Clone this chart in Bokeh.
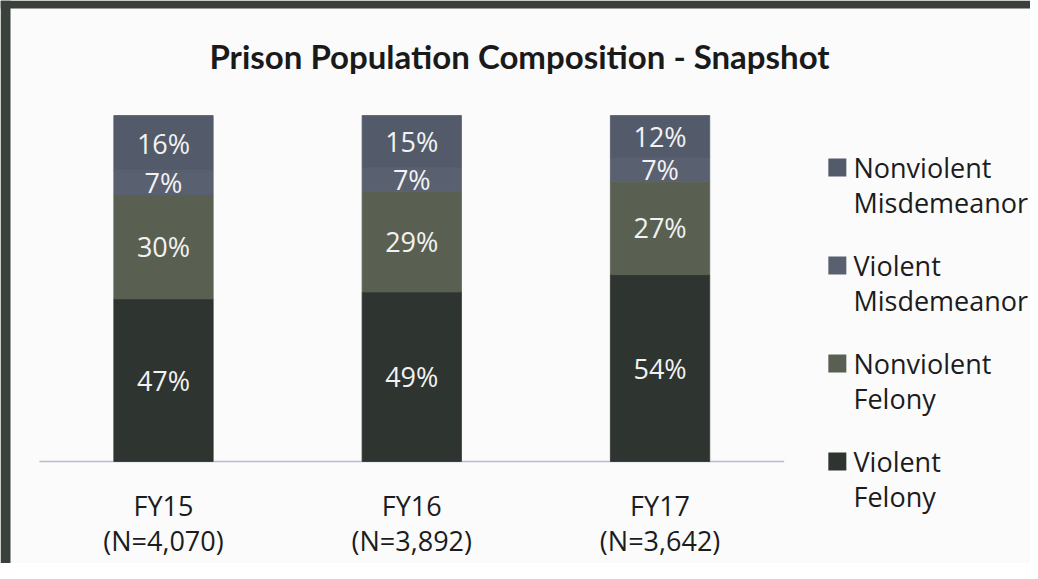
from bokeh.plotting import figure
from bokeh.models import Range1d, ColumnDataSource, BoxAnnotation
from bokeh.core.properties import value
from bokeh.embed import file_html
from bokeh.resources import INLINE

title_text = "Prison Population Composition - Snapshot"
years = ["FY15", "FY16", "FY17"]
totals = ["(N=4,070)", "(N=3,892)", "(N=3,642)"]
series_keys = ["violent_felony", "nonviolent_felony", "violent_misdemeanor", "nonviolent_misdemeanor"]
series_names = ["Violent\nFelony", "Nonviolent\nFelony", "Violent\nMisdemeanor", "Nonviolent\nMisdemeanor"]
violent_felony = [47, 49, 54]
nonviolent_felony = [30, 29, 27]
violent_misdemeanor = [7, 7, 7]
nonviolent_misdemeanor = [16, 15, 12]
colors = ["#2e3430", "#5a6051", "#596070", "#535b6b"]

xs = list(range(len(years)))
data = dict(x=xs, violent_felony=violent_felony, nonviolent_felony=nonviolent_felony,
            violent_misdemeanor=violent_misdemeanor, nonviolent_misdemeanor=nonviolent_misdemeanor)
source = ColumnDataSource(data)

BG = "#fbfbfc"
FONT = value("Open Sans")
X0, X1 = -0.6565, 3.492
Y0, Y1 = -29.48, 133.24
p = figure(x_range=Range1d(X0, X1), y_range=Range1d(Y0, Y1),
           width=1030, height=563, output_backend="svg", toolbar_location=None,
           min_border=0, background_fill_color=BG, border_fill_color=BG,
           outline_line_color=None, x_axis_type=None, y_axis_type=None)
p.xgrid.visible = False
p.ygrid.visible = False

# scanned page frame (dark band top and left)
p.add_layout(BoxAnnotation(right=X0 + 10 / 248.3, fill_color="#3a413b", fill_alpha=1, line_color=None))
p.add_layout(BoxAnnotation(bottom=Y1 - 8 / 3.46, fill_color="#3a413b", fill_alpha=1, line_color=None))

# baseline (category axis line)
p.segment(x0=[-0.5], y0=[0], x1=[len(years) - 0.5], y1=[0], line_color="#b9bdcc", line_width=1.5)

renderers = p.vbar_stack(series_keys, x="x", width=0.4, fill_color=colors, line_color=colors,
                         line_width=0.8, source=source)

# percentage labels
lx, ly, lt = [], [], []
for i in xs:
    base = 0
    for key in series_keys:
        v = data[key][i]
        lx.append(i)
        ly.append(base + v / 2)
        lt.append(f"{v}%")
        base += v
p.text(x="x", y="y", text="t", source=ColumnDataSource(dict(x=lx, y=ly, t=lt)),
       text_color="#f2f2f2", text_font=FONT, text_font_size="27px",
       text_align="center", text_baseline="middle")

# category labels
p.text(x=xs, y=[-12.7] * len(xs), text=years, text_color="#1c1c1c", text_font=FONT,
       text_font_size="27px", text_align="center", text_baseline="middle")
p.text(x=xs, y=[-22.8] * len(xs), text=totals, text_color="#1c1c1c", text_font=FONT,
       text_font_size="27px", text_align="center", text_baseline="middle")

# legend (top to bottom: reverse of stack order)
leg_y = [84.97, 56.65, 28.32, 0.0]
order = [3, 2, 1, 0]
p.scatter(x=[2.714] * 4, y=leg_y, marker="square", size=18,
          color=[colors[k] for k in order], line_color=None)
p.text(x=[2.779] * 4, y=[v - 5.06 for v in leg_y], text=[series_names[k] for k in order],
       text_color="#1c1c1c", text_font=FONT, text_font_size="27px",
       text_line_height=0.93, text_align="left", text_baseline="middle")

# title
p.text(x=[1.434], y=[117.2], text=[title_text], text_font=value("Lato"), text_font_style="bold",
       text_font_size="33px", text_color="#1a1a1a", text_align="center", text_baseline="middle")

open("out.html", "w").write(file_html(p, INLINE))
